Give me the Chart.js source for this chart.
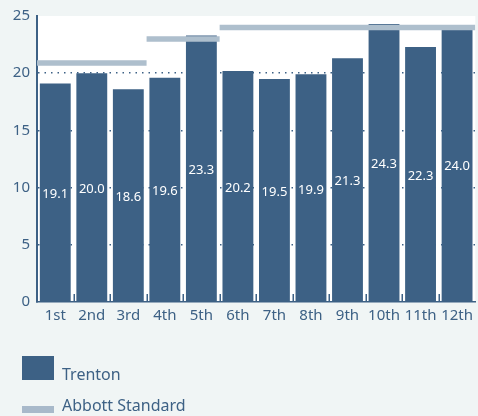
<!DOCTYPE html>
<html>
<head>
<meta charset="utf-8">
<script src="https://cdn.jsdelivr.net/npm/chart.js@4.4.1/dist/chart.umd.min.js"></script>
<style>
  html, body { margin: 0; padding: 0; background: #f0f5f5; }
  #wrap { position: relative; width: 478px; height: 416px; }
  #c { position: absolute; left: 0; top: 0; }
  .sw { position: absolute; left: 22px; }
  .lt { position: absolute; left: 62px; white-space: nowrap; font-family: "Noto Sans", sans-serif; font-size: 16px; color: #3d6185; line-height: 20px; }
</style>
</head>
<body>
<div id="wrap">
  <canvas id="c" width="478" height="416"></canvas>
  <div class="sw" style="top:356px;width:32px;height:24px;background:#3d6185;"></div>
  <div class="lt" style="top:364px;">Trenton</div>
  <div class="sw" style="top:406px;width:32px;height:7px;background:#a8b9ca;"></div>
  <div class="lt" style="top:395px;">Abbott Standard</div>
</div>
<script>
const categories = ["1st","2nd","3rd","4th","5th","6th","7th","8th","9th","10th","11th","12th"];
const trenton = [19.1, 20.0, 18.6, 19.6, 23.3, 20.2, 19.5, 19.9, 21.3, 24.3, 22.3, 24.0];
const abbottStandard = [20.9, 20.9, 20.9, 23.0, 23.0, 24.0, 24.0, 24.0, 24.0, 24.0, 24.0, 24.0];
const yTicks = [0, 5, 10, 15, 20, 25];

const BAR = '#3d6185';
const STD = '#aebfcd';
const TXT = '#3d6185';

// horizontal segments for the standard, one per run of equal values
const stdPoints = [];
abbottStandard.forEach((v, i) => {
  if (i === 0 || v !== abbottStandard[i - 1]) {
    if (i > 0) stdPoints.push({x: i, y: null});
    stdPoints.push({x: i, y: v});
  }
  stdPoints.push({x: i + 1, y: v});
});

const plotBg = {
  id: 'plotBg',
  beforeDraw(chart) {
    const {ctx, chartArea: a} = chart;
    ctx.save();
    ctx.fillStyle = '#ffffff';
    ctx.fillRect(a.left, a.top, a.right - a.left, a.bottom - a.top);
    ctx.restore();
  },
  beforeDatasetsDraw(chart) {
    const {ctx, chartArea: a} = chart;
    const xs = chart.scales.x;
    const w = (a.right - a.left) / categories.length;
    ctx.save();
    ctx.strokeStyle = BAR;
    ctx.lineWidth = 1.5;
    for (let i = 1; i < categories.length; i++) {
      const px = Math.round(xs.getPixelForValue(i) - w / 2) + 0.25;
      ctx.beginPath();
      ctx.moveTo(px, a.bottom - 8);
      ctx.lineTo(px, a.bottom);
      ctx.stroke();
    }
    ctx.restore();
  },
  afterDatasetsDraw(chart) {
    const {ctx} = chart;
    const meta = chart.getDatasetMeta(0);
    ctx.save();
    ctx.fillStyle = '#ffffff';
    ctx.font = '13px "Noto Sans"';
    ctx.textAlign = 'center';
    ctx.textBaseline = 'middle';
    meta.data.forEach((bar, i) => {
      const cy = (bar.y + bar.base) / 2 + 2;
      ctx.fillText(trenton[i].toFixed(1), bar.x, cy);
    });
    ctx.restore();
  }
};

new Chart(document.getElementById('c'), {
  type: 'bar',
  data: {
    labels: categories,
    datasets: [
      {
        label: 'Trenton',
        data: trenton,
        backgroundColor: BAR,
        borderWidth: 0,
        grouped: false,
        barPercentage: 0.845,
        categoryPercentage: 1,
        order: 1
      },
      {
        type: 'line',
        label: 'Abbott Standard',
        data: stdPoints,
        xAxisID: 'xl',
        borderColor: STD,
        borderWidth: 5.5,
        borderCapStyle: 'butt',
        pointRadius: 0,
        spanGaps: false,
        fill: false,
        tension: 0,
        order: 0
      }
    ]
  },
  plugins: [plotBg],
  options: {
    responsive: false,
    animation: false,
    layout: { padding: { top: 11, right: 0, left: 0, bottom: 84 } },
    plugins: { legend: { display: false }, tooltip: { enabled: false } },
    scales: {
      x: {
        type: 'category',
        offset: true,
        grid: { display: false, drawTicks: false },
        border: { display: true, color: BAR, width: 1.5 },
        ticks: { color: TXT, font: { family: 'Noto Sans', size: 15 }, padding: 5, maxRotation: 0, autoSkip: false },
        afterFit(s) { s.height = 30; }
      },
      xl: {
        type: 'linear',
        display: false,
        offset: false,
        bounds: 'ticks',
        min: 0,
        max: categories.length
      },
      y: {
        min: 0,
        max: 25,
        afterBuildTicks(s) { s.ticks = yTicks.map(v => ({value: v})); },
        grid: {
          drawTicks: false,
          color: (c) => (c.tick && (c.tick.value === 0 || c.tick.value === 25)) ? 'rgba(0,0,0,0)' : BAR,
          lineWidth: 1.5
        },
        border: { display: true, color: BAR, width: 2, dash: [1.5, 5] },
        ticks: { color: TXT, font: { family: 'Noto Sans', size: 15 }, padding: 7 },
        afterFit(s) { s.width = 37; }
      }
    }
  }
});
</script>
</body>
</html>
